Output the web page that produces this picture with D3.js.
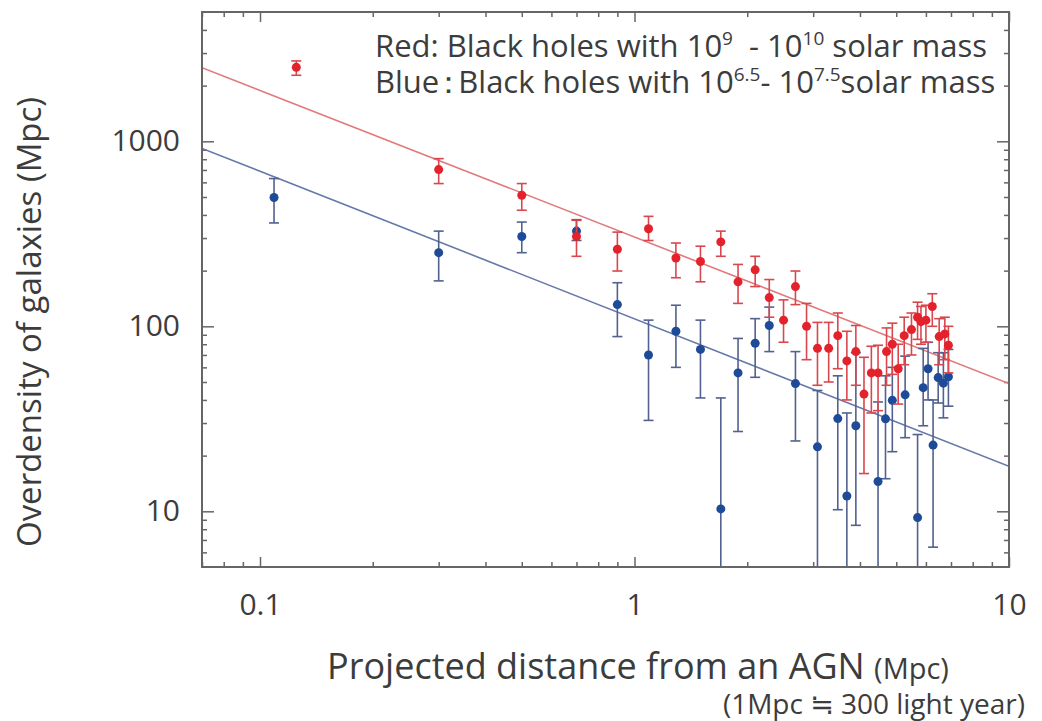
<!DOCTYPE html>
<html>
<head>
<meta charset="utf-8">
<script src="https://d3js.org/d3.v7.min.js"></script>
<style>
  body { margin: 0; background: #fff; }
  svg text { font-family: "Open Sans", "DejaVu Sans", sans-serif; fill: #3c3c3c; }
</style>
</head>
<body>
<svg id="chart" width="1042" height="721"></svg>
<script>
// values (x in Mpc, y = overdensity)
var redX  = [0.125, 0.30, 0.50, 0.70, 0.90, 1.09, 1.29, 1.50, 1.70, 1.89, 2.10, 2.29, 2.50, 2.69, 2.88,
             3.08, 3.30, 3.49, 3.69, 3.90, 4.10, 4.29, 4.47, 4.71, 4.88, 5.06, 5.25, 5.49, 5.70, 5.82,
             6.00, 6.24, 6.51, 6.74, 6.89];
var redY  = [2510, 703, 511, 306, 261, 337, 234, 224, 286, 174, 202, 143, 108, 164, 100,
             76, 76, 89, 65, 73, 43, 56, 56, 73, 80, 59, 89, 96, 112, 106,
             108, 128, 88, 91, 79];
var redHi = [2720, 806, 591, 374, 323, 393, 282, 271, 327, 216, 239, 179, 139, 199, 133,
             105, 105, 118, 94, 101, 68, 78, 79, 98, 104, 80, 112, 118, 135, 128,
             130, 150, 110, 112, 100];
var redLo = [2275, 591, 424, 239, 199, 291, 183, 174, 239, 133, 164, 112, 82, 131, 66,
             48, 50, 59, 40, 48, 16, 34, 35, 48, 55, 38, 62, 70, 85, 80,
             82, 100, 62, 66, 56];

var blueX  = [0.109, 0.30, 0.50, 0.70, 0.90, 1.09, 1.29, 1.50, 1.70, 1.89, 2.10, 2.29, 2.69, 3.08,
              3.49, 3.69, 3.90, 4.47, 4.68, 4.88, 5.28, 5.70, 5.90, 6.08, 6.27, 6.47, 6.68, 6.89];
var blueY  = [497, 250, 306, 327, 131, 70, 94, 75, 10.3, 56, 81, 101, 49, 22.3,
              31.7, 12.1, 29, 14.5, 31.6, 39.8, 42.6, 9.25, 46.6, 59, 22.8, 52.8, 49.3, 53.4];
var blueHi = [629, 327, 366, 377, 172, 108, 130, 108, 41, 86, 110, 127, 73, 45,
              54, 34, 72, 39, 54, 60, 69, 26, 76, 82, 40, 72, 72, 75];
var blueLo = [362, 176, 250, 291, 88, 31, 60, 41, 1, 27, 53, 73, 24, 1,
              10.2, 1, 8.4, 1, 15, 21, 25, 1, 29, 40, 6.4, 38.5, 32, 37];

// fitted power-law lines, end points
var redFitX = [0.07, 10], redFitY = [2500, 49];
var blueFitX = [0.07, 10], blueFitY = [915, 17.5];

var xMajor = [0.1, 1, 10];
var xMajorLabels = ["0.1", "1", "10"];
var xMinor = [0.07, 0.08, 0.09, 0.2, 0.3, 0.4, 0.5, 0.6, 0.7, 0.8, 0.9, 2, 3, 4, 5, 6, 7, 8, 9];
var yMajor = [10, 100, 1000];
var yMajorLabels = ["10", "100", "1000"];
var yMinor = [6, 7, 8, 9, 20, 30, 40, 50, 60, 70, 80, 90, 200, 300, 400, 500, 600, 700, 800, 900, 2000, 3000, 4000];

// legend pieces: n = normal, s = superscript, c = full-width colon
var legendRed = ["Red: Black holes with 10", "9", "  - 10", "10", " solar mass"];
var legendRedRole = ["n", "s", "n", "s", "n"];
var legendBlue = ["Blue", "\uff1a", "Black holes with 10", "6.5", "- 10", "7.5", "solar mass"];
var legendBlueRole = ["n", "c", "n", "s", "n", "s", "n"];

var pLeft = 202, pTop = 12, pRight = 1009, pBottom = 567;

var svg = d3.select("#chart");

var x = d3.scaleLog().domain([0.07, 10]).range([pLeft, pRight]);
var y = d3.scaleLog().domain([5, 5000]).range([pBottom, pTop]);

svg.append("defs").append("clipPath").attr("id", "plotclip")
  .append("rect").attr("x", pLeft).attr("y", pTop)
  .attr("width", pRight - pLeft).attr("height", pBottom - pTop);

// axes, ticks inside the frame
function styleAxis(g) {
  g.select(".domain").remove();
  g.selectAll(".tick line").attr("stroke", "#666").attr("stroke-width", 1.5);
  g.selectAll(".tick text").style("font-size", "30px").attr("fill", "#3c3c3c");
}

svg.append("g").attr("transform", "translate(0," + pBottom + ")")
  .call(d3.axisBottom(x).tickValues(xMajor).tickSize(-10).tickPadding(27)
    .tickFormat(function(d, i) { return xMajorLabels[i]; }))
  .call(styleAxis);
svg.append("g").attr("transform", "translate(0," + pBottom + ")")
  .call(d3.axisBottom(x).tickValues(xMinor).tickSize(-5).tickFormat(""))
  .call(styleAxis);
svg.append("g").attr("transform", "translate(0," + pTop + ")")
  .call(d3.axisTop(x).tickValues(xMajor).tickSize(-10).tickFormat(""))
  .call(styleAxis);
svg.append("g").attr("transform", "translate(0," + pTop + ")")
  .call(d3.axisTop(x).tickValues(xMinor).tickSize(-5).tickFormat(""))
  .call(styleAxis);

svg.append("g").attr("transform", "translate(" + pLeft + ",0)")
  .call(d3.axisLeft(y).tickValues(yMajor).tickSize(-12).tickPadding(22)
    .tickFormat(function(d, i) { return yMajorLabels[i]; }))
  .call(styleAxis);
svg.append("g").attr("transform", "translate(" + pLeft + ",0)")
  .call(d3.axisLeft(y).tickValues(yMinor).tickSize(-5).tickFormat(""))
  .call(styleAxis);
svg.append("g").attr("transform", "translate(" + pRight + ",0)")
  .call(d3.axisRight(y).tickValues(yMajor).tickSize(-12).tickFormat(""))
  .call(styleAxis);
svg.append("g").attr("transform", "translate(" + pRight + ",0)")
  .call(d3.axisRight(y).tickValues(yMinor).tickSize(-5).tickFormat(""))
  .call(styleAxis);

var plot = svg.append("g").attr("clip-path", "url(#plotclip)");

var line = d3.line().x(function(d) { return x(d[0]); }).y(function(d) { return y(d[1]); });

plot.append("path").datum(d3.zip(redFitX, redFitY))
  .attr("d", line).attr("fill", "none").attr("stroke", "#e27a7c").attr("stroke-width", 1.6);
plot.append("path").datum(d3.zip(blueFitX, blueFitY))
  .attr("d", line).attr("fill", "none").attr("stroke", "#6678aa").attr("stroke-width", 1.6);

function drawSeries(xs, ys, his, los, barColor, dotColor) {
  var pts = xs.map(function(v, i) { return { x: v, y: ys[i], hi: his[i], lo: los[i] }; });
  var g = plot.append("g");
  var bars = g.selectAll("g.err").data(pts).enter().append("g").attr("class", "err")
    .attr("stroke", barColor).attr("stroke-width", 1.6);
  bars.append("line")
    .attr("x1", function(d) { return x(d.x); }).attr("x2", function(d) { return x(d.x); })
    .attr("y1", function(d) { return y(d.hi); }).attr("y2", function(d) { return y(d.lo); });
  bars.append("line")
    .attr("x1", function(d) { return x(d.x) - 5; }).attr("x2", function(d) { return x(d.x) + 5; })
    .attr("y1", function(d) { return y(d.hi); }).attr("y2", function(d) { return y(d.hi); });
  bars.append("line")
    .attr("x1", function(d) { return x(d.x) - 5; }).attr("x2", function(d) { return x(d.x) + 5; })
    .attr("y1", function(d) { return y(d.lo); }).attr("y2", function(d) { return y(d.lo); });
  return { g: g, pts: pts, color: dotColor };
}

var blueS = drawSeries(blueX, blueY, blueHi, blueLo, "#52618f", "#1e4b98");
var redS = drawSeries(redX, redY, redHi, redLo, "#d9474e", "#e3222c");

[blueS, redS].forEach(function(s) {
  s.g.selectAll("circle").data(s.pts).enter().append("circle")
    .attr("cx", function(d) { return x(d.x); })
    .attr("cy", function(d) { return y(d.y); })
    .attr("r", 4.5)
    .attr("fill", s.color);
});

// frame
svg.append("rect").attr("x", pLeft).attr("y", pTop)
  .attr("width", pRight - pLeft).attr("height", pBottom - pTop)
  .attr("fill", "none").attr("stroke", "#666").attr("stroke-width", 2);

// legend text
function legendLine(parts, roles, yy) {
  var t = svg.append("text").attr("x", 375).attr("y", yy).style("font-size", "31px")
    .attr("xml:space", "preserve");
  var raised = false, afterColon = false;
  parts.forEach(function(p, i) {
    var r = roles[i];
    var ts = t.append("tspan").text(p).style("font-size", r === "s" ? "19px" : "31px");
    if (r === "s" && !raised) { ts.attr("dy", -12); raised = true; }
    else if (r !== "s" && raised) { ts.attr("dy", 12); raised = false; }
    if (r === "c") ts.attr("dx", -6);
    if (afterColon) ts.attr("dx", -6);
    afterColon = (r === "c");
  });
}
legendLine(legendRed, legendRedRole, 57);
legendLine(legendBlue, legendBlueRole, 93);

// axis titles
svg.append("text")
  .attr("transform", "translate(41,322) rotate(-90)")
  .attr("text-anchor", "middle")
  .style("font-size", "33px")
  .text("Overdensity of galaxies (Mpc)");

var xt = svg.append("text").attr("x", 638).attr("y", 679)
  .attr("text-anchor", "middle").style("font-size", "36px");
xt.append("tspan").text("Projected distance from an AGN ");
xt.append("tspan").style("font-size", "29px").text("(Mpc)");

svg.append("text").attr("x", 1025).attr("y", 714)
  .attr("text-anchor", "end").style("font-size", "28px")
  .text("(1Mpc \u2252 300 light year)");
</script>
</body>
</html>
